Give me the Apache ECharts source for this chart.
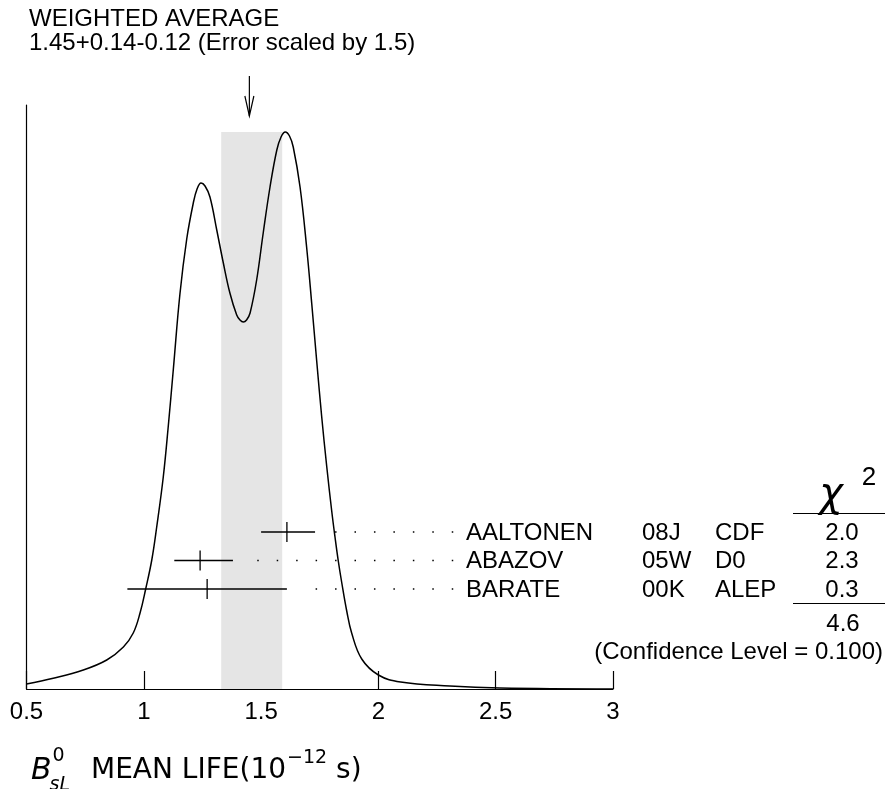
<!DOCTYPE html>
<html><head><meta charset="utf-8">
<script src="https://cdn.jsdelivr.net/npm/echarts@6/dist/echarts.min.js"></script>
<style>html,body{margin:0;padding:0;background:#fff}#c{width:885px;height:789px}</style>
</head><body><div id="c"></div>
<script>
// ---- data ----
const xTickLabels = ['0.5', '1', '1.5', '2', '2.5', '3'];
const curveX = [0.50,0.614,0.742,0.842,0.913,0.955,0.984,1.008,1.034,1.055,1.083,1.104,1.126,1.154,1.183,1.211,1.227,1.244,1.261,1.282,1.311,1.339,1.367,1.396,1.410,1.424,1.438,1.453,1.481,1.509,1.538,1.567,1.585,1.603,1.621,1.637,1.666,1.694,1.716,1.737,1.758,1.780,1.801,1.815,1.829,1.844,1.865,1.886,1.929,2.0,2.095,2.305,2.518,3.0];
const curveY = [5,10.7,19,29,42,56,76,100,129,162,212,262,320,395,450,486,500,506,503,492,459,426,396,374,369,367,369,376,409,456,502,539,552,557,553,542,502,442,385,328,273,222,178,152,128,106,78,56,30,14,7,3,1,0];
const avgValue = 1.45, avgPlus = 0.14, avgMinus = 0.12, errScale = 1.5;
const names = ['AALTONEN', 'ABAZOV', 'BARATE'];
const codes = ['08J', '05W', '00K'];
const exps = ['CDF', 'D0', 'ALEP'];
const values = [1.61, 1.24, 1.27];
const errLo = [0.11, 0.11, 0.34];
const errHi = [0.12, 0.14, 0.34];
const chi2 = ['2.0', '2.3', '0.3'];
const chi2Total = '4.6';
const confLevel = '0.100';

// ---- layout ----
const FONT = '"Liberation Sans", Arial, Helvetica, sans-serif';
const ROW_Y0 = 532, ROW_DY = 28.5;
const DOT_END = 452.5, DOT_STEP = 19.45;
const Y_MAX = 584;

const chart = echarts.init(document.getElementById('c'), null, {renderer: 'canvas'});
const black = '#000';
const curveData = curveX.map((x, i) => [x, curveY[i]]);
const bandTop = Math.max.apply(null, curveY);
const barData = values.map((v, i) => [v, v - errLo[i], v + errHi[i]]);

const mctx = document.createElement('canvas').getContext('2d');
function tw(text, font) { mctx.font = font; return mctx.measureText(text).width; }

const graphics = [];
function txt(text, x, y, size, align, extra) {
  graphics.push(Object.assign({type: 'text', x: x, y: y, style: {text: text, font: size + 'px ' + FONT, fill: black, align: align || 'left', verticalAlign: 'middle'}}, extra || {}));
}
// title
txt('WEIGHTED AVERAGE', 29, 19, 24);
txt(avgValue.toFixed(2) + '+' + avgPlus.toFixed(2) + '-' + avgMinus.toFixed(2) + ' (Error scaled by ' + errScale + ')', 29, 43, 24);
// table
for (let i = 0; i < names.length; i++) {
  const y = ROW_Y0 + i * ROW_DY + 1;
  txt(names[i], 466, y, 24);
  txt(codes[i], 642, y, 24);
  txt(exps[i], 715, y, 24);
  txt(chi2[i], 842, y, 24, 'center');
}
txt(chi2Total, 843, 624, 24, 'center');
txt('(Confidence Level = ' + confLevel + ')', 883, 652, 24, 'right');
graphics.push({type: 'text', x: 831, y: 496, style: {text: 'χ', font: 'italic 40px "DejaVu Sans", sans-serif', fill: black, align: 'center', verticalAlign: 'middle'}});
txt('2', 869, 478, 26, 'center');
graphics.push({type: 'line', shape: {x1: 793, y1: 513.5, x2: 885, y2: 513.5}, style: {stroke: black, lineWidth: 1.2}});
graphics.push({type: 'line', shape: {x1: 793, y1: 603.5, x2: 885, y2: 603.5}, style: {stroke: black, lineWidth: 1.2}});
// axis title
(function () {
  const MF = '"DejaVu Sans", Verdana, sans-serif';
  const big = 28, small = 19;
  let x = 31;
  const yc = 771;
  const fB = 'italic 30px ' + MF;
  graphics.push({type: 'text', x: x, y: yc, style: {text: 'B', font: fB, fill: black, verticalAlign: 'middle'}});
  x += tw('B', fB) + 1;
  graphics.push({type: 'text', x: x, y: yc - 15, style: {text: '0', font: small + 'px ' + MF, fill: black, verticalAlign: 'middle'}});
  graphics.push({type: 'text', x: x - 3, y: yc + 14, style: {text: 'sL', font: 'italic ' + small + 'px ' + MF, fill: black, verticalAlign: 'middle'}});
  x = 91;
  const fM = big + 'px ' + MF;
  graphics.push({type: 'text', x: x, y: yc, style: {text: 'MEAN LIFE(10', font: fM, fill: black, verticalAlign: 'middle'}});
  x += tw('MEAN LIFE(10', fM) + 1;
  const fS = small + 'px ' + MF;
  graphics.push({type: 'text', x: x, y: yc - 13, style: {text: '\u221212', font: fS, fill: black, verticalAlign: 'middle'}});
  x += tw('\u221212', fS);
  graphics.push({type: 'text', x: x, y: yc, style: {text: ' s)', font: fM, fill: black, verticalAlign: 'middle'}});
})();

const option = {
  backgroundColor: '#fff',
  animation: false,
  grid: {left: 26.5, right: 272, top: 105, bottom: 100, containLabel: false},
  xAxis: {
    type: 'value', min: 0.5, max: 3, interval: 0.5,
    axisLine: {show: true, onZero: false, lineStyle: {color: black, width: 1.2}},
    axisTick: {show: true, inside: true, length: 18, lineStyle: {color: black, width: 1.2}},
    axisLabel: {show: true, margin: 11, color: black, fontSize: 24, fontFamily: FONT,
      formatter: function (v) { const i = Math.round((v - 0.5) / 0.5); return xTickLabels[i] || ''; }},
    splitLine: {show: false}
  },
  yAxis: {
    type: 'value', min: 0, max: Y_MAX,
    axisLine: {show: true, lineStyle: {color: black, width: 1.2}},
    axisTick: {show: false}, axisLabel: {show: false}, splitLine: {show: false}
  },
  graphic: graphics,
  series: [
    {
      type: 'custom', z: 1, silent: true,
      data: [[avgValue - avgMinus, avgValue + avgPlus, bandTop]],
      renderItem: function (params, api) {
        const p1 = api.coord([api.value(0), api.value(2)]);
        const p2 = api.coord([api.value(1), 0]);
        return {type: 'rect', shape: {x: p1[0], y: p1[1], width: p2[0] - p1[0], height: p2[1] - p1[1]}, style: {fill: '#e5e5e5'}};
      }
    },
    {
      type: 'line', z: 3, data: curveData, showSymbol: false, symbol: 'none',
      smooth: 0.4,
      lineStyle: {color: black, width: 1.5}, silent: true
    },
    {
      type: 'custom', z: 4, silent: true, data: barData,
      renderItem: function (params, api) {
        const i = params.dataIndex;
        const y = ROW_Y0 + i * ROW_DY;
        const pc = api.coord([api.value(0), 0])[0];
        const pl = api.coord([api.value(1), 0])[0];
        const ph = api.coord([api.value(2), 0])[0];
        const ch = [
          {type: 'line', shape: {x1: pl, y1: y, x2: ph, y2: y}, style: {stroke: black, lineWidth: 1.3}},
          {type: 'line', shape: {x1: pc, y1: y - 10, x2: pc, y2: y + 10}, style: {stroke: black, lineWidth: 1.3}}
        ];
        for (let dx = DOT_END; dx > ph + 15; dx -= DOT_STEP) {
          ch.push({type: 'rect', shape: {x: dx - 0.75, y: y - 0.75, width: 1.5, height: 1.5}, style: {fill: black}});
        }
        return {type: 'group', children: ch};
      }
    },
    {
      type: 'custom', z: 4, silent: true, data: [[avgValue]],
      renderItem: function (params, api) {
        const px = api.coord([api.value(0), 0])[0];
        return {type: 'group', children: [
          {type: 'line', shape: {x1: px, y1: 76, x2: px, y2: 116}, style: {stroke: black, lineWidth: 1.2}},
          {type: 'polyline', shape: {points: [[px - 4.5, 96], [px, 116], [px + 4.5, 96]]}, style: {stroke: black, lineWidth: 1.2, fill: null}}
        ]};
      }
    }
  ]
};
chart.setOption(option);
</script></body></html>
